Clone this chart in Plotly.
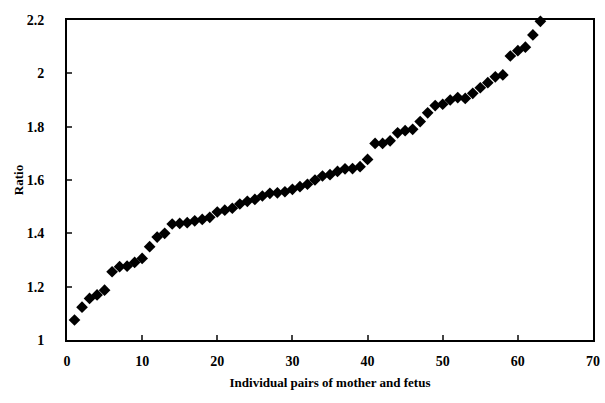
import plotly.graph_objects as go

pair_index = list(range(1, 64))
ratio = [1.075, 1.123, 1.156, 1.169, 1.187, 1.256, 1.275, 1.277, 1.291, 1.306,
         1.350, 1.386, 1.400, 1.435, 1.437, 1.440, 1.447, 1.452, 1.460, 1.480,
         1.487, 1.494, 1.510, 1.520, 1.527, 1.540, 1.550, 1.552, 1.556, 1.565,
         1.575, 1.584, 1.600, 1.615, 1.620, 1.632, 1.642, 1.643, 1.650, 1.677,
         1.737, 1.737, 1.747, 1.777, 1.785, 1.790, 1.819, 1.852, 1.879, 1.884,
         1.900, 1.909, 1.906, 1.925, 1.946, 1.965, 1.987, 1.994, 2.065, 2.085,
         2.098, 2.144, 2.195]
x_ticks = [0, 10, 20, 30, 40, 50, 60, 70]
y_ticks = [1, 1.2, 1.4, 1.6, 1.8, 2, 2.2]
y_tick_text = ["1", "1.2", "1.4", "1.6", "1.8", "2", "2.2"]

font_family = "Liberation Serif, Times New Roman, serif"

fig = go.Figure(go.Scatter(
    x=pair_index, y=ratio, mode="markers",
    marker=dict(symbol="diamond", size=9, color="black"),
    cliponaxis=False,
))

fig.update_layout(
    width=605, height=403,
    margin=dict(l=67, r=12, t=20, b=63),
    paper_bgcolor="white", plot_bgcolor="white",
    showlegend=False,
    font=dict(family=font_family, color="black"),
)
fig.update_xaxes(
    range=[0, 70], tickvals=x_ticks, ticks="inside", ticklen=5, tickwidth=2,
    showline=True, linewidth=2, linecolor="black", mirror=True,
    showgrid=False, zeroline=False, ticklabelstandoff=7, automargin=False,
    tickfont=dict(size=14, family=font_family, weight="bold"),
    title=dict(text="Individual pairs of mother and fetus", standoff=10,
               font=dict(size=13, family=font_family, weight="bold")),
)
fig.update_yaxes(
    range=[1, 2.2], tickvals=y_ticks, ticktext=y_tick_text, ticks="inside",
    ticklen=5, tickwidth=2,
    showline=True, linewidth=2, linecolor="black", mirror=True,
    showgrid=False, zeroline=False, ticklabelstandoff=18, automargin=False,
    tickfont=dict(size=14, family=font_family, weight="bold"),
    title=dict(text="Ratio", standoff=0,
               font=dict(size=13, family=font_family, weight="bold")),
)

fig.write_html(
    "out.html",
    config={"displayModeBar": False},
    post_script="document.body.style.margin='0';document.body.style.overflow='hidden';",
)
